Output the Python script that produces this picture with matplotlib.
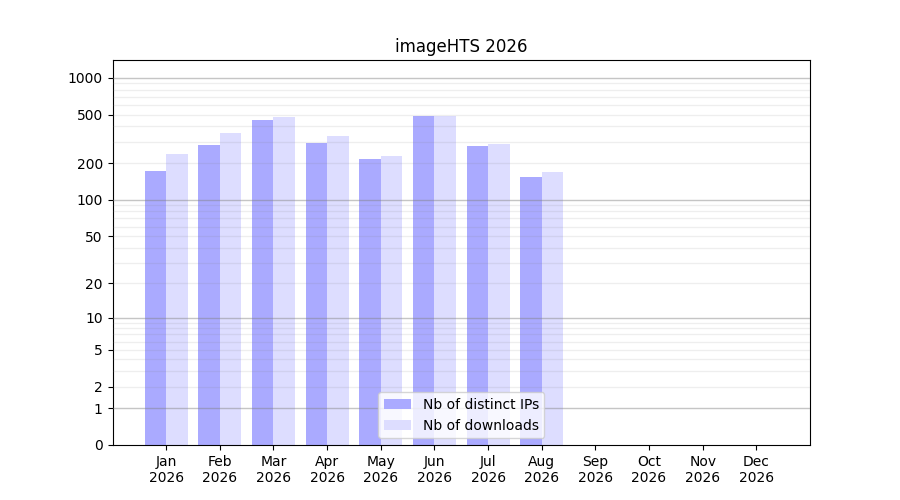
import numpy as np
import matplotlib
matplotlib.use("Agg")
from matplotlib import pyplot as plt

months = ["Jan", "Feb", "Mar", "Apr", "May", "Jun", "Jul", "Aug", "Sep", "Oct", "Nov", "Dec"]
year = "2026"
# values only known up to August
ips = [173, 283, 454, 294, 217, 489, 278, 155]
downloads = [239, 355, 480, 336, 230, 489, 289, 170]
yticks = [0, 1, 2, 5, 10, 20, 50, 100, 200, 500, 1000]


def fwd(v):
  return np.log10(np.clip(v, 0, None) + 1)


def inv(t):
  return 10 ** t - 1


fig, ax = plt.subplots(figsize=(9, 5), dpi=100)
ax.set_yscale("function", functions=(fwd, inv))

x = np.arange(len(ips))
ax.bar(x - 0.2, ips, width=0.4, color="#aaaaff", label="Nb of distinct IPs", zorder=2)
ax.bar(x + 0.2, downloads, width=0.4, color="#ddddff", label="Nb of downloads", zorder=2)

# grid: strong lines on decades, faint ones on 2..9 multiples
for dec in [1, 10, 100, 1000]:
  ax.axhline(dec, color="gray", alpha=0.45, lw=1, zorder=3)
  if dec < 1000:
    for m in range(2, 10):
      ax.axhline(dec * m, color="gray", alpha=0.13, lw=1, zorder=3)

ax.set_ylim(0, 1400)
ax.set_yticks(yticks)
ax.set_yticklabels([str(v) for v in yticks])
ax.minorticks_off()

ax.set_xticks(np.arange(len(months)))
ax.set_xticklabels([m + "\n" + year for m in months])
ax.set_xlim(-1, len(months))

ax.set_title("imageHTS " + year)
ax.legend(loc="lower center")

fig.savefig("out.png")
